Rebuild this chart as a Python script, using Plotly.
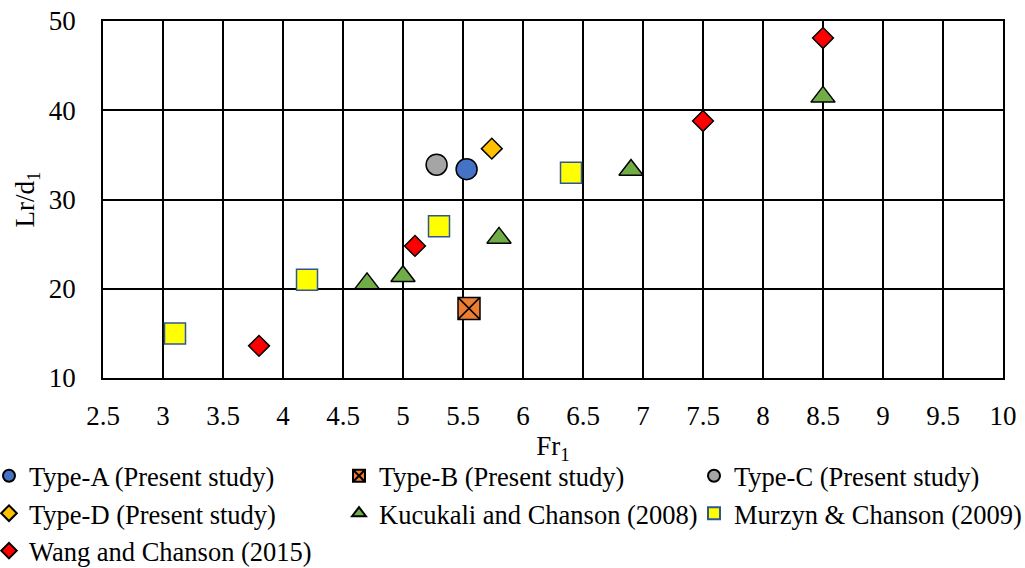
import plotly.graph_objects as go

# Data
typeA_x = [5.53]; typeA_y = [33.4]
typeB_x = [5.55]; typeB_y = [17.8]
typeC_x = [5.28]; typeC_y = [33.9]
typeD_x = [5.74]; typeD_y = [35.7]
kuc_x = [4.7, 5.0, 5.8, 6.9, 8.5]; kuc_y = [20.6, 21.4, 25.7, 33.3, 41.5]
mur_x = [3.1, 4.2, 5.3, 6.4]; mur_y = [15.0, 21.0, 27.0, 33.0]
wang_x = [3.8, 5.1, 7.5, 8.5]; wang_y = [13.6, 24.8, 38.8, 48.1]

FONT = "Liberation Serif"
FS = 27

fig = go.Figure()

def add(x, y, name, symbol, color, size, legend, lcolor="black", lw=1.5):
    fig.add_trace(go.Scatter(
        x=x, y=y, mode="markers", name=name, legend=legend,
        marker=dict(symbol=symbol, color=color, size=size,
                    line=dict(color=lcolor, width=lw))))

add(typeA_x, typeA_y, "Type-A (Present study)", "circle", "#4472C4", 21, "legend")
add(typeB_x, typeB_y, "Type-B (Present study)", "square-x", "#ED7D31", 22, "legend2")
add(typeC_x, typeC_y, "Type-C (Present study)", "circle", "#A5A5A5", 21, "legend3")
add(typeD_x, typeD_y, "Type-D (Present study)", "diamond", "#FFC000", 16, "legend")
add(kuc_x, kuc_y, "Kucukali and Chanson (2008)", "triangle-up", "#70AD47", 21, "legend2")
add(mur_x, mur_y, "Murzyn & Chanson (2009)", "square", "#FFFF00", 21, "legend3", "#2F5597", 1.5)
add(wang_x, wang_y, "Wang and Chanson (2015)", "diamond", "#FF0000", 16, "legend")

axis_common = dict(showgrid=True, gridcolor="black", gridwidth=1.5,
                   showline=True, linecolor="black", linewidth=1.5, mirror=True,
                   zeroline=False, ticks="", tickfont=dict(family=FONT, size=FS, color="black"))

fig.update_xaxes(range=[2.5, 10], dtick=0.5, tick0=2.5, ticklabelstandoff=13,
                 title=dict(text="Fr<sub>1</sub>", font=dict(family=FONT, size=FS, color="black"), standoff=2),
                 **axis_common)
fig.update_yaxes(range=[10, 50], dtick=10, ticklabelstandoff=20,
                 title=dict(text="Lr/d<sub>1</sub>", font=dict(family=FONT, size=FS, color="black"), standoff=6),
                 **axis_common)

W = 900.0
H = 357.0
def lx(px):
    return (px - 103) / W

legend_common = dict(orientation="v", yanchor="top", y=-(452 - 378) / H, xanchor="left",
                     font=dict(family=FONT, size=26.5, color="black"),
                     itemsizing="constant", itemwidth=30, bgcolor="rgba(0,0,0,0)",
                     borderwidth=0, tracegroupgap=0)

fig.update_layout(
    width=1025, height=568,
    margin=dict(l=103, r=22, t=21, b=190, autoexpand=False),
    paper_bgcolor="white", plot_bgcolor="white",
    font=dict(family=FONT, size=FS, color="black"),
    showlegend=True,
    legend=dict(x=lx(-11), **legend_common),
    legend2=dict(x=lx(339), **legend_common),
    legend3=dict(x=lx(694), **legend_common),
)

fig.write_html("out.html")
